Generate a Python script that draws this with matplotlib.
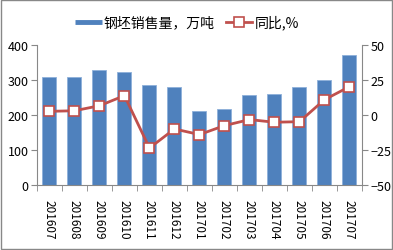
import numpy as np
import matplotlib
matplotlib.use("Agg")
import matplotlib.pyplot as plt
from matplotlib.lines import Line2D

plt.rcParams['font.family'] = ['Noto Sans CJK SC', 'DejaVu Sans']

months = ['201607', '201608', '201609', '201610', '201611', '201612', '201701',
          '201702', '201703', '201704', '201705', '201706', '201707']
sales = [309, 308, 329, 323, 285, 281, 212, 217, 258, 261, 279, 300, 371]
yoy = [2.6, 3.0, 6.6, 13.8, -23.6, -10.0, -14.0, -7.6, -3.3, -5.2, -4.8, 10.9, 20.2]

fig = plt.figure(figsize=(3.93, 2.51), dpi=100)
ax = fig.add_axes([0.094, 0.259, 0.827, 0.558])
x = np.arange(len(months))
ax.bar(x, sales, width=0.56, color='#4F81BD', edgecolor='#8EB0DA', linewidth=0.6)
ax.set_xlim(-0.5, len(months) - 0.5)
ax.set_ylim(0, 400)
ax.set_yticks([0, 100, 200, 300, 400])
ax.set_xticks(x)
ax.set_xticklabels(months, rotation=270, fontsize=8.5)
ax.set_xticks(np.arange(-0.5, len(months), 1), minor=True)
ax.tick_params(axis='x', which='major', length=0, pad=10)
ax.tick_params(axis='x', which='minor', length=4, color='#888888')
ax.tick_params(axis='y', length=4, color='#888888', labelsize=9, pad=2)
for s in ['top', 'right']:
    ax.spines[s].set_visible(False)
for s in ['left', 'bottom']:
    ax.spines[s].set_color('#888888')

ax2 = ax.twinx()
l, = ax2.plot(x, yoy, color='#C0504D', linewidth=2, marker='s', markersize=7,
              markerfacecolor='white', markeredgecolor='#C0504D', markeredgewidth=1.2)
ax2.set_ylim(-50, 50)
ax2.set_yticks([-50, -25, 0, 25, 50])
ax2.tick_params(axis='y', length=4, color='#888888', labelsize=9, pad=2)
for s in ['top', 'left', 'bottom']:
    ax2.spines[s].set_visible(False)
ax2.spines['right'].set_color('#888888')

bar_handle = Line2D([], [], color='#4F81BD', linewidth=3.5, solid_capstyle='butt')
fig.legend([bar_handle, l], ['钢坯销售量，万吨', '同比,%'], loc='center',
           bbox_to_anchor=(0.476, 0.908), ncol=2, frameon=False, fontsize=10,
           handlelength=1.9, columnspacing=0.8, handletextpad=0.15)

fig.patches.append(plt.Rectangle((0.002, 0.003), 0.995, 0.993, transform=fig.transFigure,
                                 fill=False, edgecolor='#888888', linewidth=1))
fig.savefig('out.png', dpi=100)
